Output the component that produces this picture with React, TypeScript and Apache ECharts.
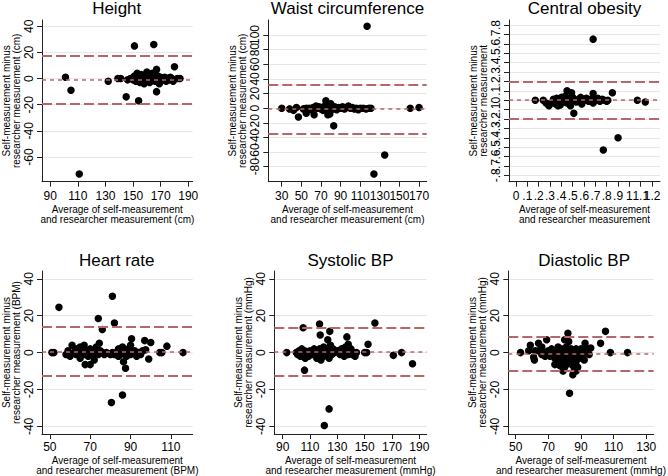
import React, { useEffect, useRef } from 'react';
import * as echarts from 'echarts';

const FONT = '"Liberation Sans", Arial, sans-serif';
const LINE_RED = '#b5676c';

// ---- Data: [average, difference] pairs ----
const heightPoints = [
  [101, 1], [105, -9], [111, -73], [132, -2], [139, 0], [141, 0], [145, -14], [146, -1],
  [151, 25], [154, -17], [165, 26], [167, 7], [167, -10], [180, 9], [182, 0], [184, 0],
  [148, 0], [150, -1], [151, 2], [152, -2], [153, 4], [154, 1], [155, -1], [156, 3],
  [157, 0], [158, -4], [158, 2], [159, 1], [160, 5], [160, -2], [161, 3], [162, 0],
  [162, -3], [163, 2], [164, 4], [164, -1], [165, 1], [166, -2], [166, 3], [167, 0],
  [168, -1], [168, 2], [169, -4], [170, 1], [170, -2], [171, 0], [172, -1], [173, 1],
  [174, -2], [175, 0], [176, -1], [178, 0], [179, -2], [177, 1], [155, -3], [159, -1],
];
const waistPoints = [
  [30, 0], [38, -1], [42, -3], [45, 1], [47, -12], [55, 0], [55, -7], [63, -9], [65, 3],
  [75, 10], [77, -9], [83, -24], [117, 112], [135, -64], [124, -90], [161, 0], [170, 1],
  [52, -1], [58, 0], [60, -2], [62, 1], [66, 0], [68, 2], [70, -1], [71, 1], [72, -3],
  [73, 2], [74, 0], [75, 4], [76, -2], [77, 1], [78, -5], [78, 3], [79, 0], [80, -2],
  [80, 6], [81, 1], [82, -1], [84, 2], [85, 0], [86, -2], [88, 1], [90, 0], [92, 2],
  [94, -1], [96, 1], [98, 3], [100, 0], [102, 1], [104, -1], [106, 0], [108, -2],
  [110, 0], [113, 0], [116, -1], [119, 0], [121, 0], [79, -8],
];
const obesityPoints = [
  [0.17, 0.0], [0.24, 0.0], [0.265, -0.03], [0.29, -0.06], [0.37, -0.06], [0.45, 0.1],
  [0.49, 0.08], [0.51, -0.14], [0.68, 0.65], [0.68, 0.07], [0.77, -0.53], [0.85, 0.08],
  [0.9, -0.4], [1.07, 0.0], [1.14, -0.02], [0.81, 0.0],
  [0.31, -0.03], [0.33, 0.01], [0.35, -0.04], [0.36, 0.02], [0.38, 0.0], [0.39, -0.05],
  [0.4, 0.03], [0.41, 0.0], [0.42, -0.02], [0.43, 0.04], [0.44, 0.01], [0.45, -0.03],
  [0.46, 0.02], [0.47, 0.0], [0.48, -0.06], [0.5, 0.03], [0.52, 0.0], [0.53, -0.02],
  [0.55, 0.01], [0.57, 0.03], [0.58, -0.04], [0.6, 0.0], [0.62, 0.02], [0.64, -0.01],
  [0.66, 0.01], [0.68, -0.03], [0.7, 0.0], [0.72, 0.02], [0.74, -0.01], [0.76, 0.01],
  [0.78, 0.0], [0.8, -0.01],
];
const heartPoints = [
  [51, 0], [52, 0], [54.5, 24.5], [61, 4], [67.5, -6.5], [70, -6.5], [74, 18.5],
  [76, 12.5], [74.5, 5], [80.5, -27], [81, 30.5], [82, 16], [86, -23], [87.5, -8.5],
  [86.5, -5], [90.5, 7.5], [97, 6.5], [97.5, 1.5], [99, -3.5], [100, 5.5], [104.5, 0],
  [105.5, 0], [108, 3.5], [116, 0],
  [58, -1], [59, 1], [60, -2], [62, 0], [63, -1], [63, 2], [64, 1], [65, -3], [65, 3],
  [66, 0], [67, -1], [67, 4], [68, 1], [69, -2], [70, 2], [71, 0], [71, -1], [72, 1],
  [72, -4], [73, 0], [73, 3], [74, -1], [75, 1], [76, 0], [77, -1], [78, 0], [80, -1],
  [81, 0], [82, -1], [83, 0], [84, -2], [84, 2], [85, 1], [85, -1], [86, 3], [87, 0],
  [88, -2], [88, 1], [89, 2], [90, 4], [90, -1], [91, 0], [92, 1], [93, -2], [94, 0],
  [95, -1], [96, 1],
];
const systolicPoints = [
  [93, 0], [105, 13.5], [106, -9.5], [106.5, -3], [117, 15.5], [117.5, 9.5], [124.5, 11.5],
  [120.5, -39.5], [124, -30.5], [123, 7], [125, 4], [137, 8.5], [138, 4.5], [152.5, 4.5],
  [150, 0], [151.5, 0], [157.5, 16], [171, -1.5], [177, 0], [185, -6],
  [100, 0], [101, -1], [102, 1], [103, -2], [104, 2], [105, 0], [106, 1], [107, -1],
  [108, 0], [109, -2], [110, 1], [111, 0], [112, -1], [113, 2], [114, 0], [115, -3],
  [115, 1], [116, -1], [117, 2], [118, -4], [118, 0], [119, 1], [120, -2], [120, 3],
  [121, 0], [122, -1], [123, 1], [124, -3], [125, 0], [126, -1], [127, 2], [128, 0],
  [130, 1], [132, -1], [133, 2], [134, 0], [135, -2], [136, 3], [137, 1], [138, -1],
  [139, 0], [140, 2], [141, -1], [142, 0], [143, -2], [144, 0],
];
const diastolicPoints = [
  [53, 0], [58, 1], [59, 4], [61, -2.5], [61.5, -4], [64, 5], [66, 3], [69, 7], [69, -1.5],
  [74, -6.5], [79, -10], [80, 7], [82, 10.5], [82.5, 6], [83, -22], [85, -12], [87, -10],
  [93, 2.5], [92.5, 5], [96, 2.5], [102, 5], [105, 11.5], [108, 0], [118.5, 0],
  [62, 1], [64, 1], [66, -1], [67, 0], [68, -2],
  [70, 1], [71, -2], [72, 2], [73, 0], [74, -3], [75, 1], [75, -5], [76, 3], [76, -1],
  [77, 0], [77, -7], [78, 2], [78, -3], [79, 1], [79, -5], [80, 0], [80, -8], [81, -2],
  [81, 3], [82, -1], [82, -6], [83, 0], [83, -4], [84, 2], [84, -2], [85, -7], [85, 1],
  [86, -3], [86, 0], [87, 2], [87, -5], [88, -1], [88, 1], [89, -3], [89, 0], [90, -2],
  [90, 2], [91, -1], [91, 1], [92, -4], [92, 0], [94, 0], [95, -1], [86, -9], [88, -8],
];

// ---- Limits of agreement: [upper, mean, lower] ----
const heightLimits = [17.5, -1.1, -19.2];
const waistLimits = [31.7, -1.1, -34.3];
const obesityLimits = [0.205, 0.0, -0.2];
const heartLimits = [13.8, 0.5, -12.8];
const systolicLimits = [13.3, 0.2, -12.8];
const diastolicLimits = [8.8, -0.5, -10.1];

// ---- Tick labels ----
const heightXTicks = [90, 110, 130, 150, 170, 190];
const heightYTicks = [-60, -40, -20, 0, 20, 40];
const waistXTicks = [30, 50, 70, 90, 110, 130, 150, 170];
const waistYTicks = [-80, -60, -40, -20, 0, 20, 40, 60, 80, 100];
const obesityXTicks = [0, 0.1, 0.2, 0.3, 0.4, 0.5, 0.6, 0.7, 0.8, 0.9, 1, 1.1, 1.2];
const obesityYTicks = [-0.8, -0.7, -0.6, -0.5, -0.4, -0.3, -0.2, -0.1, 0, 0.1, 0.2, 0.3, 0.4, 0.5, 0.6, 0.7, 0.8];
const heartXTicks = [50, 70, 90, 110];
const bpYTicks = [-40, -20, 0, 20, 40];
const systolicXTicks = [90, 110, 130, 150, 170, 190];
const diastolicXTicks = [50, 70, 90, 110, 130];

const titles = ['Height', 'Waist circumference', 'Central obesity', 'Heart rate', 'Systolic BP', 'Diastolic BP'];
const units = [' (cm)', ' (cm)', '', ' (BPM)', ' (mmHg)', ' (mmHg)'];

const fmtStata = (v: number) => {
  const r = Math.round(v * 10) / 10;
  if (r === 0) return '0';
  return String(r).replace(/^(-?)0\./, '$1.');
};
const fmtInt = (v: number) => String(Math.round(v));

// layout (plot-area boxes) and axis extents
const panels = [
  { points: heightPoints, limits: heightLimits, xt: heightXTicks, yt: heightYTicks, box: [40.7, 20, 152, 161.7], xr: [84, 193.2], yr: [-78.9, 44.8], fmt: fmtInt },
  { points: waistPoints, limits: waistLimits, xt: waistXTicks, yt: waistYTicks, box: [268.3, 20, 158.4, 161.7], xr: [16.3, 177.8], yr: [-100.5, 120.5], fmt: fmtInt },
  { points: obesityPoints, limits: obesityLimits, xt: obesityXTicks, yt: obesityYTicks, box: [509, 20, 151, 161.7], xr: [-0.062, 1.27], yr: [-0.868, 0.854], fmt: fmtStata },
  { points: heartPoints, limits: heartLimits, xt: heartXTicks, yt: bpYTicks, box: [40.7, 271, 152, 163.3], xr: [46.1, 120.8], yr: [-44.1, 44.2], fmt: fmtInt },
  { points: systolicPoints, limits: systolicLimits, xt: systolicXTicks, yt: bpYTicks, box: [274.3, 271, 152.4, 163.3], xr: [83.9, 195.4], yr: [-44.1, 44.2], fmt: fmtInt },
  { points: diastolicPoints, limits: diastolicLimits, xt: diastolicXTicks, yt: bpYTicks, box: [508.3, 271, 151.7, 163.3], xr: [45.5, 134.5], yr: [-44.1, 44.2], fmt: fmtInt },
];

const evens = (a: number[]) => a.filter((_, k) => k % 2 === 0);
const odds = (a: number[]) => a.filter((_, k) => k % 2 === 1);

function buildOption() {
  const grid: any[] = [];
  const xAxis: any[] = [];
  const yAxis: any[] = [];
  const series: any[] = [];
  const graphic: any[] = [];
  const axisColor = '#222';
  panels.forEach((p, i) => {
    const [l, t, w, h] = p.box;
    const topRow = i < 3;
    grid.push({ left: l, top: t, width: w, height: h, containLabel: false });
    const xLabelBase = {
      formatter: p.fmt, fontSize: 12, color: '#000', margin: topRow ? 8.5 : 7,
      fontFamily: FONT, hideOverlap: false, showMinLabel: true, showMaxLabel: true,
    };
    const yLabelBase = {
      formatter: p.fmt, rotate: 90, fontSize: 12, color: '#000', margin: 7,
      fontFamily: FONT, hideOverlap: false, showMinLabel: true, showMaxLabel: true,
    };
    // main x axis (line, ticks, even-index labels, name)
    xAxis.push({
      gridIndex: i, type: 'value', min: p.xr[0], max: p.xr[1],
      axisLine: { show: true, onZero: false, lineStyle: { color: axisColor, width: 1 } },
      axisTick: { show: true, length: 5, customValues: p.xt, lineStyle: { color: axisColor } },
      axisLabel: { ...xLabelBase, customValues: evens(p.xt) },
      splitLine: { show: false },
      name: 'Average of self-measurement\nand researcher measurement' + units[i],
      nameLocation: 'middle', nameGap: topRow ? 23 : 21,
      nameTextStyle: { fontSize: 10, lineHeight: 10, color: '#000', fontFamily: FONT },
    });
    // companion x axis carrying the odd-index labels
    xAxis.push({
      gridIndex: i, type: 'value', min: p.xr[0], max: p.xr[1], position: 'bottom',
      axisLine: { show: false, onZero: false },
      axisTick: { show: false },
      axisLabel: { ...xLabelBase, customValues: odds(p.xt) },
      splitLine: { show: false },
    });
    yAxis.push({
      gridIndex: i, type: 'value', min: p.yr[0], max: p.yr[1],
      axisLine: { show: true, onZero: false, lineStyle: { color: axisColor, width: 1 } },
      axisTick: { show: true, length: 5, customValues: p.yt, lineStyle: { color: axisColor } },
      axisLabel: { ...yLabelBase, customValues: evens(p.yt) },
      splitLine: { show: true, lineStyle: { color: '#e6e6e6', width: 1 } },
      name: 'Self-measurement minus\nresearcher measurement' + units[i],
      nameLocation: 'middle', nameGap: 21, nameRotate: 90,
      nameTextStyle: { fontSize: 10, lineHeight: 10, color: '#000', fontFamily: FONT },
    });
    yAxis.push({
      gridIndex: i, type: 'value', min: p.yr[0], max: p.yr[1], position: 'left',
      axisLine: { show: false, onZero: false },
      axisTick: { show: false },
      axisLabel: { ...yLabelBase, customValues: odds(p.yt) },
      splitLine: { show: false },
    });
    series.push({
      type: 'line', xAxisIndex: 2 * i, yAxisIndex: 2 * i, data: [], z: 2, silent: true,
      markLine: {
        silent: true, symbol: ['none', 'none'], label: { show: false }, animation: false,
        data: [
          { yAxis: p.limits[0], lineStyle: { color: LINE_RED, width: 2, type: [10, 4] } },
          { yAxis: p.limits[1], lineStyle: { color: LINE_RED, width: 1.6, type: [4, 4] } },
          { yAxis: p.limits[2], lineStyle: { color: LINE_RED, width: 2, type: [10, 4] } },
        ],
      },
    });
    series.push({
      type: 'scatter', xAxisIndex: 2 * i, yAxisIndex: 2 * i, data: p.points, z: 3,
      symbol: 'circle', symbolSize: 7.5, itemStyle: { color: '#000', opacity: 1 },
    });
    graphic.push({
      type: 'text', x: l + w / 2, y: topRow ? 8.6 : 260,
      style: { text: titles[i], fill: '#000', font: `17px ${FONT}`, align: 'center', verticalAlign: 'middle' },
    });
  });
  return { animation: false, backgroundColor: '#fff', grid, xAxis, yAxis, series, graphic };
}

export default function App() {
  const ref = useRef<HTMLDivElement>(null);
  useEffect(() => {
    if (!ref.current) return;
    const chart = echarts.init(ref.current, null, { renderer: 'svg' });
    chart.setOption(buildOption());
    return () => chart.dispose();
  }, []);
  return (
    <div
      ref={ref}
      style={{ position: 'fixed', left: 0, top: 0, width: 668, height: 476, background: '#fff' }}
    />
  );
}
